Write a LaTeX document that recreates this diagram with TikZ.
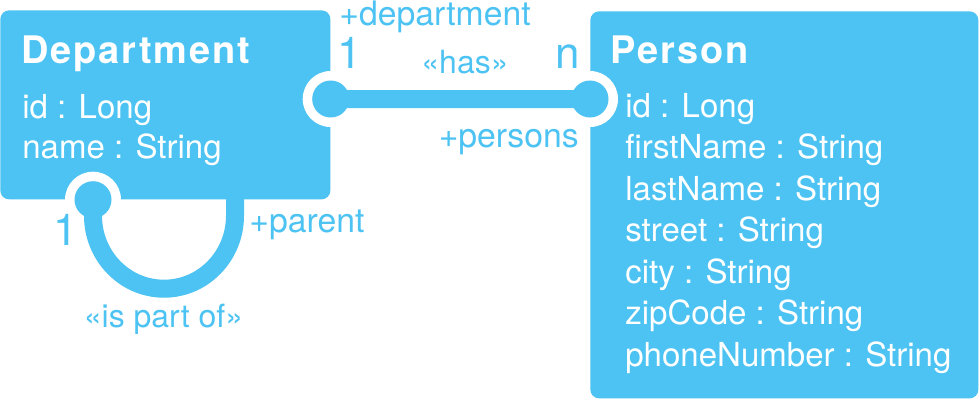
\documentclass[tikz,border=0pt]{standalone}
\usepackage{fontspec}
\setmainfont{TeX Gyre Heros}
\newfontfamily\titlefont[LetterSpace=5]{TeX Gyre Heros}
\usetikzlibrary{positioning, calc}
\definecolor{umlblue}{HTML}{4CC3F2}

\begin{document}
\begin{tikzpicture}[
  every node/.style={inner sep=0pt},
  classbox/.style={fill=umlblue, rounded corners=5pt, anchor=north west},
  classname/.style={anchor=base west, text=white,
    font=\titlefont\bfseries\fontsize{21.6}{26}\selectfont},
  attr/.style={anchor=base west, text=white, font=\fontsize{18.8}{22}\selectfont},
  rolelabel/.style={text=umlblue, font=\fontsize{19.2}{23}\selectfont},
  multlabel/.style={anchor=base west, text=umlblue, font=\fontsize{25}{30}\selectfont},
  stereo/.style={anchor=base, text=umlblue, font=\fontsize{18.2}{22}\selectfont},
  assoc/.style={umlblue, line width=0.36cm},
]

% Background
\fill[white] (0,0) rectangle (19.6,-8.02);
\useasboundingbox (0,0) rectangle (19.6,-8.02);

% Department class
\node[classbox, minimum width=6.6cm, minimum height=3.78cm] (dep) at (0,-0.2) {};
\node[classname] (depName) at (0.42,-1.26) {Department};
\node[attr] (depA1) at (0.44,-2.36) {id : Long};
\node[attr] (depA2) at (0.44,-3.16) {name : String};

% Person class
\node[classbox, minimum width=7.76cm, minimum height=7.74cm] (per) at (11.8,-0.22) {};
\node[classname] (perName) at (12.2,-1.26) {Person};
\foreach \txt [count=\i] in {id : Long, firstName : String, lastName : String,
    street : String, city : String, zipCode : String, phoneNumber : String}
  \node[attr] (perA\i) at (12.5,{-2.34-0.83*(\i-1)}) {\txt};

% Association ends
\coordinate (hasL) at ($(dep.north east)+(0,-1.78)$);
\coordinate (hasR) at ($(per.north west)+(0,-1.76)$);
\coordinate (partA) at ($(dep.south west)+(1.86,0)$);
\coordinate (partB) at ($(dep.south west)+(4.7,0)$);

% «has» association
\fill[white] (hasL) circle (0.56);
\fill[white] (hasR) circle (0.56);
\draw[assoc] (hasL) -- (hasR);
\fill[umlblue] (hasL) circle (0.37);
\fill[umlblue] (hasR) circle (0.37);

% «is part of» self association
\fill[white] (partA) circle (0.56);
\draw[assoc] ($(partB)+(0,0.1)$) -- ++(0,-0.42)
  arc[start angle=0, end angle=-180, x radius=1.42, y radius=1.46] -- (partA);
\fill[umlblue] (partA) circle (0.37);

% Labels
\node[rolelabel, anchor=base west] (roleDep) at (6.78,-0.5) {+department};
\node[multlabel] (multDep) at (6.74,-1.36) {1};
\node[stereo] (hasLbl) at (9.3,-1.46) {«has»};
\node[multlabel] (multPer) at (11.1,-1.36) {n};
\node[rolelabel, anchor=base east] (rolePer) at (11.58,-2.94) {+persons};
\node[multlabel] (multPart) at (1.07,-4.9) {1};
\node[rolelabel, anchor=base west] (roleParent) at (4.98,-4.64) {+parent};
\node[stereo] (partLbl) at (3.27,-6.54) {«is part of»};

\end{tikzpicture}
\end{document}
